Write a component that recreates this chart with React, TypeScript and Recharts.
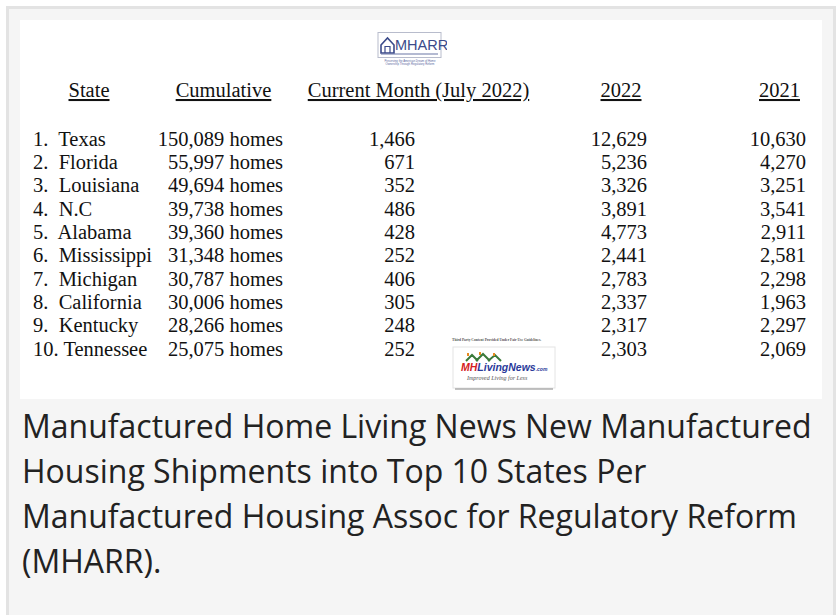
import { ScatterChart, Scatter, XAxis, YAxis } from 'recharts';

// MHARR top 10 states, July 2022 shipments
const STATES = ['Texas', 'Florida', 'Louisiana', 'N.C', 'Alabama', 'Mississippi', 'Michigan', 'California', 'Kentucky', 'Tennessee'];
const CUMULATIVE = [150089, 55997, 49694, 39738, 39360, 31348, 30787, 30006, 28266, 25075];
const CURRENT_MONTH = [1466, 671, 352, 486, 428, 252, 406, 305, 248, 252];
const YEAR_2022 = [12629, 5236, 3326, 3891, 4773, 2441, 2783, 2337, 2317, 2303];
const YEAR_2021 = [10630, 4270, 3251, 3541, 2911, 2581, 2298, 1963, 2297, 2069];
const HEADERS = ['State', 'Cumulative', 'Current Month (July 2022)', '2022', '2021'];

// layout of the table columns (x inside the white panel)
const HEADER_X = [69, 203.5, 398.5, 601, 759.5];
const COL_X = [13, 263, 395, 627, 786];

const PANEL_W = 802;
const PANEL_H = 379;
const FONT = '"Liberation Serif", "Times New Roman", serif';
const FONT_SIZE = 20.5;
const INK = '#111';

const fmt = (n: number) => n.toLocaleString('en-US');

const rows = (col: number, label: (i: number) => string) =>
  STATES.map((_, i) => ({ x: COL_X[col], rank: i + 1, label: label(i) }));

const stateRows = rows(0, (i) => `${i + 1}.${i + 1 < 10 ? '  ' : ' '}${STATES[i]}`);
const cumulativeRows = rows(1, (i) => `${fmt(CUMULATIVE[i])} homes`);
const monthRows = rows(2, (i) => fmt(CURRENT_MONTH[i]));
const rows2022 = rows(3, (i) => fmt(YEAR_2022[i]));
const rows2021 = rows(4, (i) => fmt(YEAR_2021[i]));

// the y scale puts each row's baseline at cy
const cellShape = (anchor: 'start' | 'end') => (props: any) => (
  <text
    x={props.cx}
    y={props.cy}
    textAnchor={anchor}
    fontFamily={FONT}
    fontSize={FONT_SIZE}
    fill={INK}
    style={{ whiteSpace: 'pre' }}
  >
    {props.payload.label}
  </text>
);

const HeaderTick = (props: any) => {
  const { x, y, index } = props;
  return (
    <text
      x={x}
      y={y - 37}
      textAnchor="middle"
      fontFamily={FONT}
      fontSize={FONT_SIZE}
      fill={INK}
      textDecoration="underline"
    >
      {HEADERS[index]}
    </text>
  );
};

function MharrLogo() {
  return (
    <svg width={72} height={38} style={{ position: 'absolute', left: 355, top: 11 }}>
      <rect x={3} y={1.5} width={63} height={25} fill="#fff" stroke="#b8bccc" strokeWidth={1} />
      <path d="M6 14 L12.5 7 L19 14 L19 22 L6 22 Z" fill="none" stroke="#3b4a8a" strokeWidth={1.6} />
      <path d="M10 22 L10 15.5 L15 15.5 L15 22" fill="none" stroke="#3b4a8a" strokeWidth={1.2} />
      <text x={20} y={19} fontFamily='"Liberation Sans", Arial, sans-serif' fontSize={14.5} fill="#3b4a8a">
        MHARR
      </text>
      <rect x={6} y={22.5} width={57} height={1} fill="#6a76a6" />
      <text x={35} y={31} textAnchor="middle" fontFamily="Arial" fontSize={2.8} fill="#5a68a0">
        Preserving the American Dream of Home
      </text>
      <text x={35} y={34} textAnchor="middle" fontFamily="Arial" fontSize={2.8} fill="#5a68a0">
        Ownership Through Regulatory Reform
      </text>
    </svg>
  );
}

function LivingNewsLogo() {
  return (
    <svg width={110} height={56} style={{ position: 'absolute', left: 429, top: 316 }}>
      <text x={3} y={5} fontFamily='"Liberation Serif", serif' fontSize={3.6} fontWeight={700} fill="#555">
        Third Party Content Provided Under Fair Use Guidelines.
      </text>
      <rect x={4} y={11} width={102} height={41} fill="#fff" stroke="#e4e4e4" />
      <path d="M17 25 L23 19 L29 25 M27 25 L34 18 L41 25 M39 25 L46 19 L52 25" fill="none" stroke="#3a7a3a" strokeWidth={2} />
      <rect x={18} y={17} width={2} height={3} fill="#e88a20" />
      <rect x={30} y={16} width={2} height={3} fill="#e88a20" />
      <rect x={44} y={17} width={2} height={3} fill="#e88a20" />
      <text x={12} y={35} fontFamily='"Liberation Sans", Arial, sans-serif' fontSize={10.5} fontWeight={700} fontStyle="italic">
        <tspan fill="#d42020">MH</tspan>
        <tspan fill="#2a3a9a">LivingNews</tspan>
        <tspan fill="#2a3a9a" fontSize={5}>.com</tspan>
      </text>
      <text x={18} y={44} fontFamily='"Liberation Serif", serif' fontSize={6} fontStyle="italic" fill="#555">
        Improved Living for Less
      </text>
      <rect x={6} y={52} width={98} height={2} fill="#999" opacity={0.6} />
    </svg>
  );
}

export default function App() {
  return (
    <div style={{ position: 'absolute', left: 0, top: 0, width: 838, height: 615, background: '#fff', overflow: 'hidden' }}>
      <div
        style={{
          position: 'absolute',
          left: 6,
          top: 6,
          width: 830,
          height: 640,
          boxSizing: 'border-box',
          border: '3px solid #e3e3e3',
          background: '#f5f5f5',
        }}
      />
      <div style={{ position: 'absolute', left: 20, top: 20, width: PANEL_W, height: PANEL_H, background: '#fff' }}>
        <MharrLogo />
        <ScatterChart width={PANEL_W} height={PANEL_H} margin={{ top: 74, right: 0, bottom: 31.6, left: 0 }}>
          <XAxis
            type="number"
            dataKey="x"
            orientation="top"
            domain={[0, PANEL_W]}
            ticks={HEADER_X}
            interval={0}
            height={40}
            axisLine={false}
            tickLine={false}
            tickSize={0}
            tickMargin={0}
            tick={HeaderTick}
          />
          <YAxis type="number" dataKey="rank" domain={[0.5, 10.5]} reversed hide />
          <Scatter data={stateRows} shape={cellShape('start')} isAnimationActive={false} />
          <Scatter data={cumulativeRows} shape={cellShape('end')} isAnimationActive={false} />
          <Scatter data={monthRows} shape={cellShape('end')} isAnimationActive={false} />
          <Scatter data={rows2022} shape={cellShape('end')} isAnimationActive={false} />
          <Scatter data={rows2021} shape={cellShape('end')} isAnimationActive={false} />
        </ScatterChart>
        <LivingNewsLogo />
      </div>
      <div
        style={{
          position: 'absolute',
          left: 22,
          top: 403,
          fontFamily: '"Open Sans", sans-serif',
          fontSize: 32,
          lineHeight: '45px',
          color: '#222',
          whiteSpace: 'nowrap',
        }}
      >
        <div>Manufactured Home Living News New Manufactured</div>
        <div>Housing Shipments into Top 10 States Per</div>
        <div>Manufactured Housing Assoc for Regulatory Reform</div>
        <div>(MHARR).</div>
      </div>
    </div>
  );
}
